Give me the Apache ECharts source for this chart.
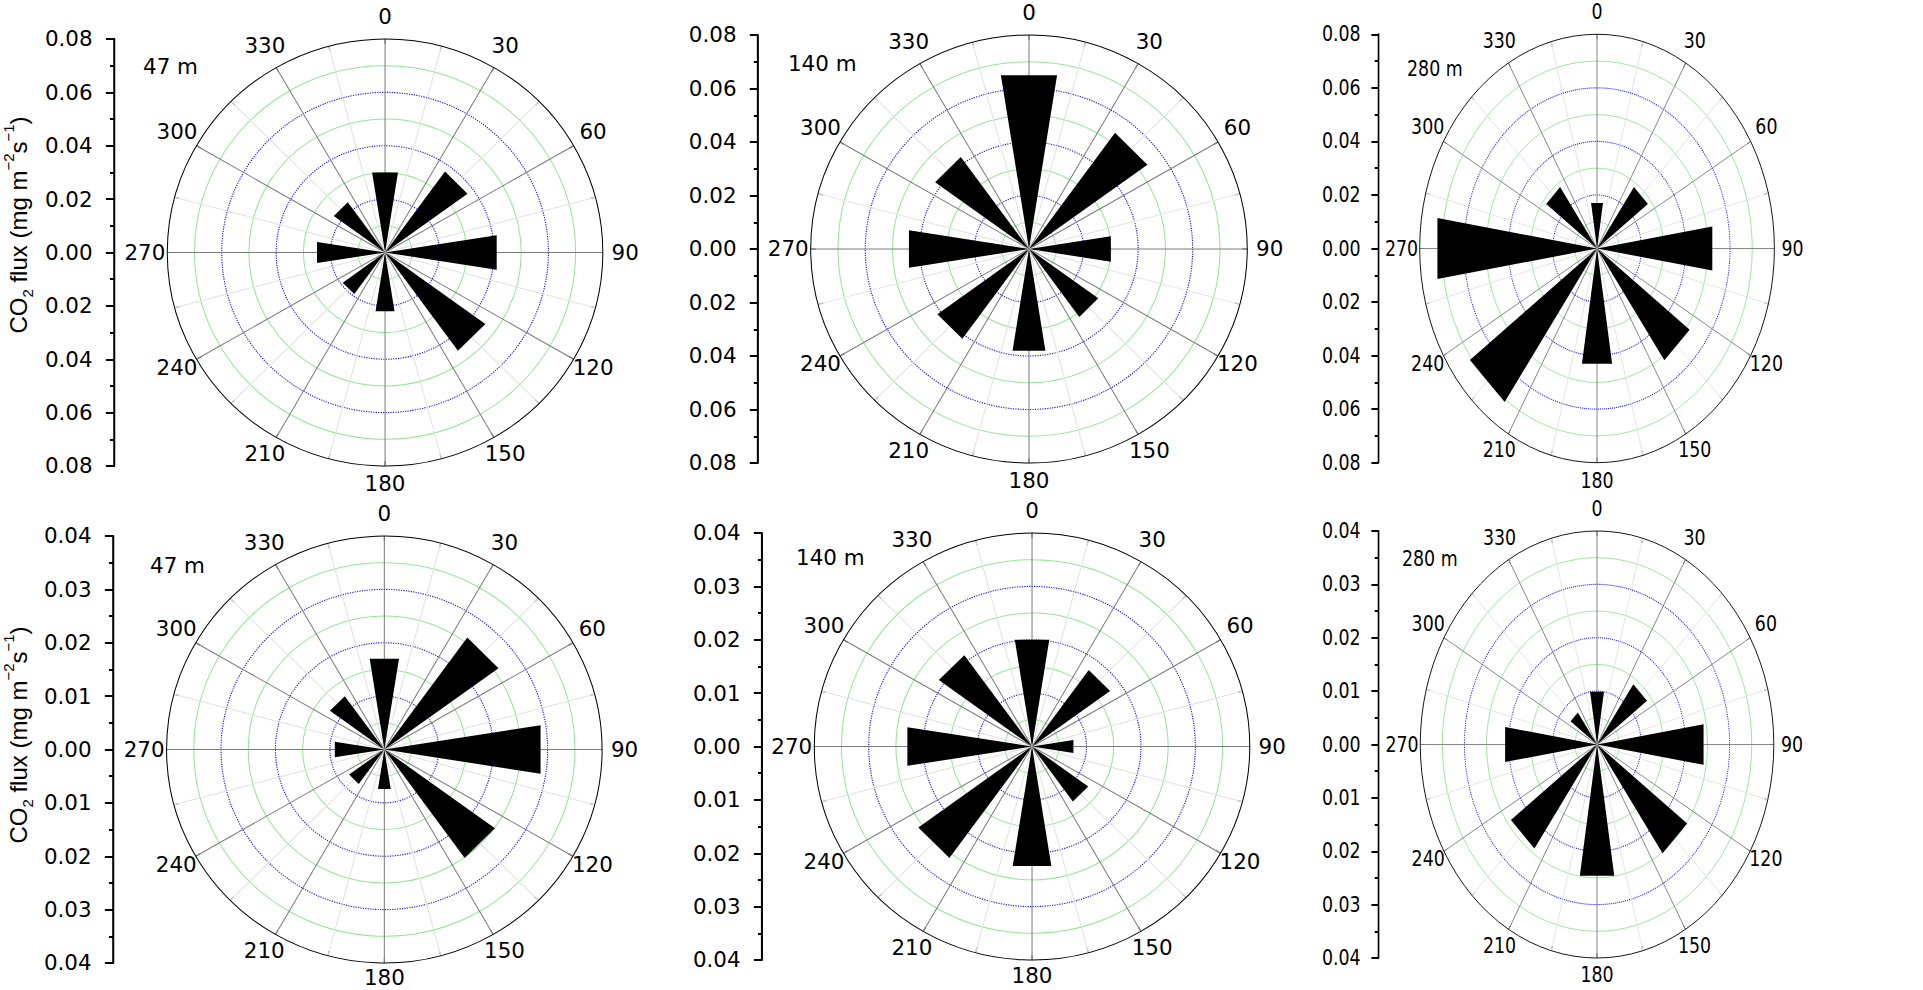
<!DOCTYPE html>
<html>
<head>
<meta charset="utf-8">
<script src="https://cdn.jsdelivr.net/npm/echarts/dist/echarts.min.js"></script>
<style>
html,body{margin:0;padding:0;background:#fff;width:1923px;height:990px;overflow:hidden;position:relative}
#a{position:absolute;left:0;top:0;width:1885px;height:990px;transform:scaleX(1.02);transform-origin:0 0}
#b{position:absolute;left:1280px;top:0;width:777px;height:990px;transform:scaleX(0.828);transform-origin:0 0}
</style>
</head>
<body>
<div id="a"></div>
<div id="b"></div>
<script>
// ---- data ----
const directions = [0, 45, 90, 135, 180, 225, 270, 315];
const heights = ['47 m', '140 m', '280 m'];
const topFlux47  = [0.030, 0.037, 0.041, 0.045, 0.022, 0.019, 0.025, 0.023];
const topFlux140 = [0.065, 0.053, 0.030, 0.031, 0.038, 0.041, 0.044, 0.042];
const topFlux280 = [0.017, 0.028, 0.052, 0.051, 0.043, 0.070, 0.072, 0.028];
const botFlux47  = [0.017, 0.0256, 0.0287, 0.0248, 0.0074, 0.0079, 0.0091, 0.0122];
const botFlux140 = [0.020, 0.0175, 0.0076, 0.0126, 0.0224, 0.0255, 0.0229, 0.0209];
const botFlux280 = [0.0099, 0.0138, 0.0241, 0.0249, 0.0246, 0.0238, 0.0208, 0.0073];
const topMax = 0.08, topStep = 0.02;
const botMax = 0.04, botStep = 0.01;
const angleLabelStep = 30;
const axisTitle = '{a|CO}{sub|2}{a| flux (mg m}{sup|\u22122}{a|s}{sup|\u22121}{a|)}';

// ---- layout (local coordinates of each chart container) ----
const layoutA = [
  {vals: topFlux47,  max: topMax, step: topStep, axisX: 111.8, cx: 377.5, cy: 252.5, r: 213.5, label: heights[0], lx: 140.2, ly: 67, south: 18, title: {gap: 77.2, pad: 55}},
  {vals: topFlux140, max: topMax, step: topStep, axisX: 743.1, cx: 1008.8, cy: 249, r: 214, label: heights[1], lx: 772.5, ly: 64, south: 18},
  {vals: botFlux47,  max: botMax, step: botStep, axisX: 110.8, cx: 376.8, cy: 749.5, r: 213.5, label: heights[0], lx: 147.1, ly: 566, south: 14.5, title: {gap: 76.2, pad: 29}},
  {vals: botFlux140, max: botMax, step: botStep, axisX: 747.1, cx: 1011.8, cy: 746.5, r: 213.5, label: heights[1], lx: 780.4, ly: 558, south: 16}
];
const layoutB = [
  {vals: topFlux280, max: topMax, step: topStep, axisX: 118.4, cx: 382.9, cy: 248.5, r: 214.2, label: heights[2], lx: 153.4, ly: 69, south: 18},
  {vals: botFlux280, max: botMax, step: botStep, axisX: 118.4, cx: 382.9, cy: 744.5, r: 213.5, label: heights[2], lx: 147.3, ly: 559, south: 17}
];

const FONT = 'DejaVu Sans';
const FS = 21;
const HALF = 9; // half width of each wedge, degrees

// angle-label placement: centre of each label about LD px outside the rim
const LM = -20, LD = 22, LSX = 0, LSY = -3, LLH = 18, LCW = 0.636 * FS;
const POLE_M = 13, NORTH = 22;
const isPole = v => v === 0 || v === 180;
function angleLabelRich(r) {
  const rich = {};
  for (let a = 0; a < 360; a += angleLabelStep) {
    if (isPole(a)) continue;
    const t = a * Math.PI / 180;
    const ux = Math.sin(t), uy = -Math.cos(t);
    const dx = (LD - LM) * ux + LSX, dy = (LD - LM) * uy + LSY;
    const w = String(a).length * LCW;
    const ax = Math.abs((r + LM) * ux) / r, ay = Math.abs((r + LM) * uy) / r;
    const align = ax < 0.3 ? 'center' : (ux > 0 ? 'left' : 'right');
    const valign = ay < 0.3 ? 'middle' : (uy > 0 ? 'top' : 'bottom');
    let pl = 0, pr = 0, lh = LLH;
    if (align === 'center') { if (dx > 0) pl = 2 * dx; else pr = -2 * dx; }
    else if (align === 'left') pl = Math.max(0, dx - w / 2);
    else pr = Math.max(0, -dx - w / 2);
    if (valign === 'top') lh = Math.max(LLH, 2 * dy);
    else if (valign === 'bottom') lh = Math.max(LLH, -2 * dy);
    rich['l' + a] = {padding: [0, pr, 0, pl], lineHeight: lh, fontFamily: FONT, fontSize: FS, color: '#000'};
  }
  return rich;
}
function poleRich(south) {
  return {
    l0: {lineHeight: 2 * (NORTH - POLE_M), fontFamily: FONT, fontSize: FS, color: '#000'},
    l180: {lineHeight: Math.max(1, 2 * (south - POLE_M)), fontFamily: FONT, fontSize: FS, color: '#000'}
  };
}

function renderBar(params, api) {
  const v = api.value(0), a = api.value(1);
  const rr = v / Math.cos(HALF * Math.PI / 180);
  const c = api.coord([0, a]).slice(0, 2);
  const p1 = api.coord([rr, a - HALF]).slice(0, 2);
  const p2 = api.coord([rr, a + HALF]).slice(0, 2);
  return {type: 'polygon', shape: {points: [c, p1, p2]}, style: {fill: '#000', stroke: null}};
}

function build(panels) {
  const opt = {animation: false, grid: [], xAxis: [], yAxis: [], polar: [], angleAxis: [], radiusAxis: [], series: [], graphic: []};
  panels.forEach((p, i) => {
    opt.grid.push({left: p.axisX, top: p.cy - p.r, height: 2 * p.r, width: 2, containLabel: false, outerBoundsMode: 'none'});
    opt.xAxis.push({type: 'value', gridIndex: i, show: false});
    const y = {
      type: 'value', gridIndex: i, min: -p.max, max: p.max, interval: p.step, position: 'left',
      axisLine: {show: true, onZero: false, lineStyle: {color: '#000', width: 2}},
      axisTick: {show: true, inside: false, length: 8, lineStyle: {color: '#000', width: 2}},
      minorTick: {show: true, splitNumber: 2, length: 4, lineStyle: {color: '#000', width: 2}},
      splitLine: {show: false},
      axisLabel: {margin: 21, formatter: v => Math.abs(v).toFixed(2), fontFamily: FONT, fontSize: FS, color: '#000'}
    };
    if (p.title) {
      Object.assign(y, {
        name: axisTitle, nameLocation: 'middle', nameRotate: 90, nameGap: p.title.gap, nameMoveOverlap: false,
        nameTextStyle: {
          fontFamily: 'Liberation Sans', fontSize: 24, color: '#000', padding: [0, 0, 0, p.title.pad],
          rich: {
            a: {fontFamily: 'Liberation Sans', fontSize: 24, lineHeight: 34, color: '#000'},
            sup: {fontFamily: 'Liberation Sans', fontSize: 15, lineHeight: 12, verticalAlign: 'top', color: '#000'},
            sub: {fontFamily: 'Liberation Sans', fontSize: 15, lineHeight: 2, verticalAlign: 'bottom', color: '#000'}
          }
        }
      });
    }
    opt.yAxis.push(y);

    // main polar: rim, spokes, green rings, side labels, wedges
    const mi = opt.polar.length;
    opt.polar.push({center: [p.cx, p.cy], radius: p.r});
    opt.angleAxis.push({
      polarIndex: mi, type: 'value', min: 0, max: 360, interval: 15, startAngle: 90, clockwise: true,
      axisLine: {show: true, lineStyle: {color: '#000', width: 1}},
      axisTick: {show: true, inside: true, length: 5, lineStyle: {color: '#555', width: 1}},
      axisLabel: {
        show: true, margin: LM, fontFamily: FONT, fontSize: FS, color: '#000',
        formatter: v => (v % angleLabelStep === 0 && v < 360 && !isPole(v)) ? '{l' + v + '|' + v + '}' : '',
        rich: angleLabelRich(p.r)
      },
      splitLine: {show: true, lineStyle: {color: ['#7c7c7c', '#e2e2e2'], width: 1}}
    });
    opt.radiusAxis.push({
      polarIndex: mi, type: 'value', min: 0, max: p.max, interval: p.max / 8,
      axisLine: {show: false}, axisTick: {show: false}, axisLabel: {show: false},
      splitLine: {show: true, lineStyle: {color: ['rgba(0,0,0,0)', '#94e694'], width: 1}}
    });
    // second polar: blue dotted rings and the 0 / 180 labels
    const bi = opt.polar.length;
    opt.polar.push({center: [p.cx, p.cy], radius: p.r});
    opt.angleAxis.push({
      polarIndex: bi, type: 'value', min: 0, max: 360, interval: angleLabelStep, startAngle: 90, clockwise: true,
      axisLine: {show: false}, axisTick: {show: false}, splitLine: {show: false},
      axisLabel: {
        show: true, margin: POLE_M, fontFamily: FONT, fontSize: FS, color: '#000',
        formatter: v => isPole(v) ? '{l' + v + '|' + v + '}' : '',
        rich: poleRich(p.south)
      }
    });
    opt.radiusAxis.push({
      polarIndex: bi, type: 'value', min: 0, max: p.max, interval: p.max / 4,
      axisLine: {show: false}, axisTick: {show: false}, axisLabel: {show: false},
      splitLine: {show: true, lineStyle: {color: ['rgba(0,0,0,0)', '#1414ff', '#1414ff', '#1414ff', 'rgba(0,0,0,0)'], width: 1.1, type: [1.2, 1.2]}}
    });
    opt.series.push({
      type: 'custom', coordinateSystem: 'polar', polarIndex: mi, z: 5, silent: true,
      renderItem: renderBar,
      data: directions.map((d, j) => [p.vals[j], d])
    });
    opt.graphic.push({
      type: 'text', x: p.lx, y: p.ly,
      style: {text: p.label, fontSize: FS, fontFamily: FONT, fill: '#000', align: 'left', verticalAlign: 'middle'}
    });
  });
  return opt;
}

const chartA = echarts.init(document.getElementById('a'), null, {renderer: 'svg'});
chartA.setOption(build(layoutA));
const chartB = echarts.init(document.getElementById('b'), null, {renderer: 'svg'});
chartB.setOption(build(layoutB));
</script>
</body>
</html>
